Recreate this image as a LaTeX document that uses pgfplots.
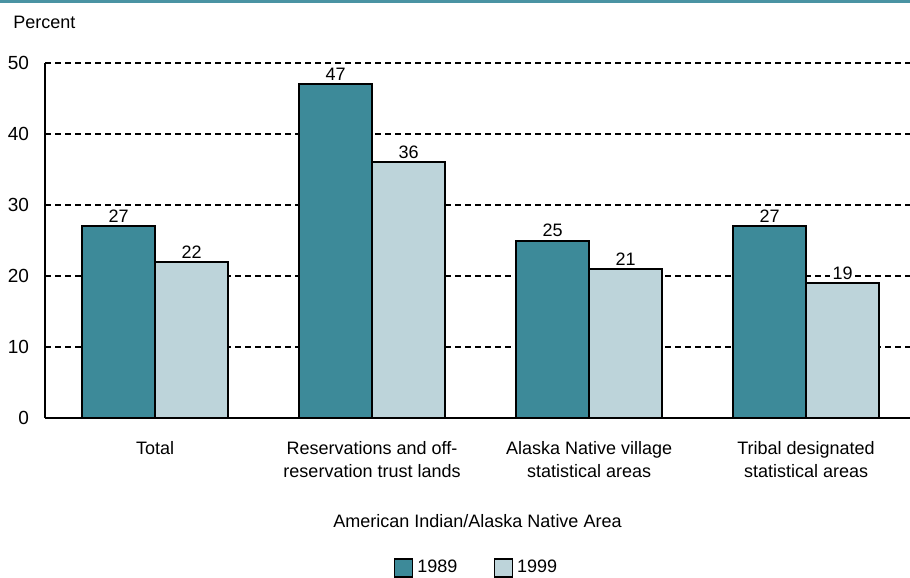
\documentclass[border=0pt]{standalone}
\usepackage{fontspec}
\setmainfont{Liberation Sans}
\usepackage{pgfplots}
\pgfplotsset{compat=1.18}
\definecolor{darkteal}{HTML}{3D8A99}
\definecolor{lightteal}{HTML}{BDD4DA}
\definecolor{topline}{HTML}{4A93A3}
\begin{document}
\begin{tikzpicture}[font=\fontsize{9}{11.5}\selectfont]
\useasboundingbox (-22.5pt,-80pt) rectangle (432.5pt,209pt);
\draw[topline, line width=1.5pt] (-22.5pt,208.2pt) -- (432.5pt,208.2pt);
\node[anchor=west, inner sep=0pt] at (-16pt,198pt) {Percent};
\begin{axis}[
  at={(0pt,0pt)}, anchor=south west,
  scale only axis, width=432.5pt, height=177.5pt,
  ybar=0pt, bar width=36.5pt,
  ymin=0, ymax=50, xmin=-0.507, xmax=3.479,
  ytick={0,10,...,50},
  xtick={0,1,2,3},
  xticklabels={Total, Reservations and off-\\reservation trust lands, Alaska Native village\\statistical areas, Tribal designated\\statistical areas},
  xticklabel style={align=center, yshift=-8pt, font=\fontsize{9}{11.5}\selectfont},
  yticklabel style={font=\fontsize{9.5}{11}\selectfont, xshift=-4.5pt},
  /pgf/number format/assume math mode=true,
  major tick length=0pt,
  axis lines=left,
  axis line style={-, line width=1pt, black},
  ymajorgrids,
  grid style={black, line width=0.6pt, dash pattern=on 3pt off 2pt},
  xlabel={American Indian/Alaska Native Area},
  xlabel style={at={(axis description cs:0.5,0)}, anchor=center, yshift=-51.5pt, font=\fontsize{9}{11}\selectfont},
  nodes near coords,
  nodes near coords style={font=\fontsize{9}{11}\selectfont, inner sep=1.2pt, anchor=south, fill=white},
  legend columns=2,
  legend style={at={(axis description cs:0.5,0)}, anchor=center, yshift=-75pt, draw=none, fill=none,
    font=\fontsize{9}{11}\selectfont, /tikz/every even column/.append style={column sep=16pt}},
  legend image code/.code={\draw[#1, line width=0.8pt] (0pt,-4.5pt) rectangle (9pt,4.5pt);},
]
\addplot[fill=darkteal, draw=black, line width=1pt] coordinates {(0,27) (1,47) (2,25) (3,27)};
\addplot[fill=lightteal, draw=black, line width=1pt] coordinates {(0,22) (1,36) (2,21) (3,19)};
\legend{1989,1999}
\end{axis}
\end{tikzpicture}
\end{document}
